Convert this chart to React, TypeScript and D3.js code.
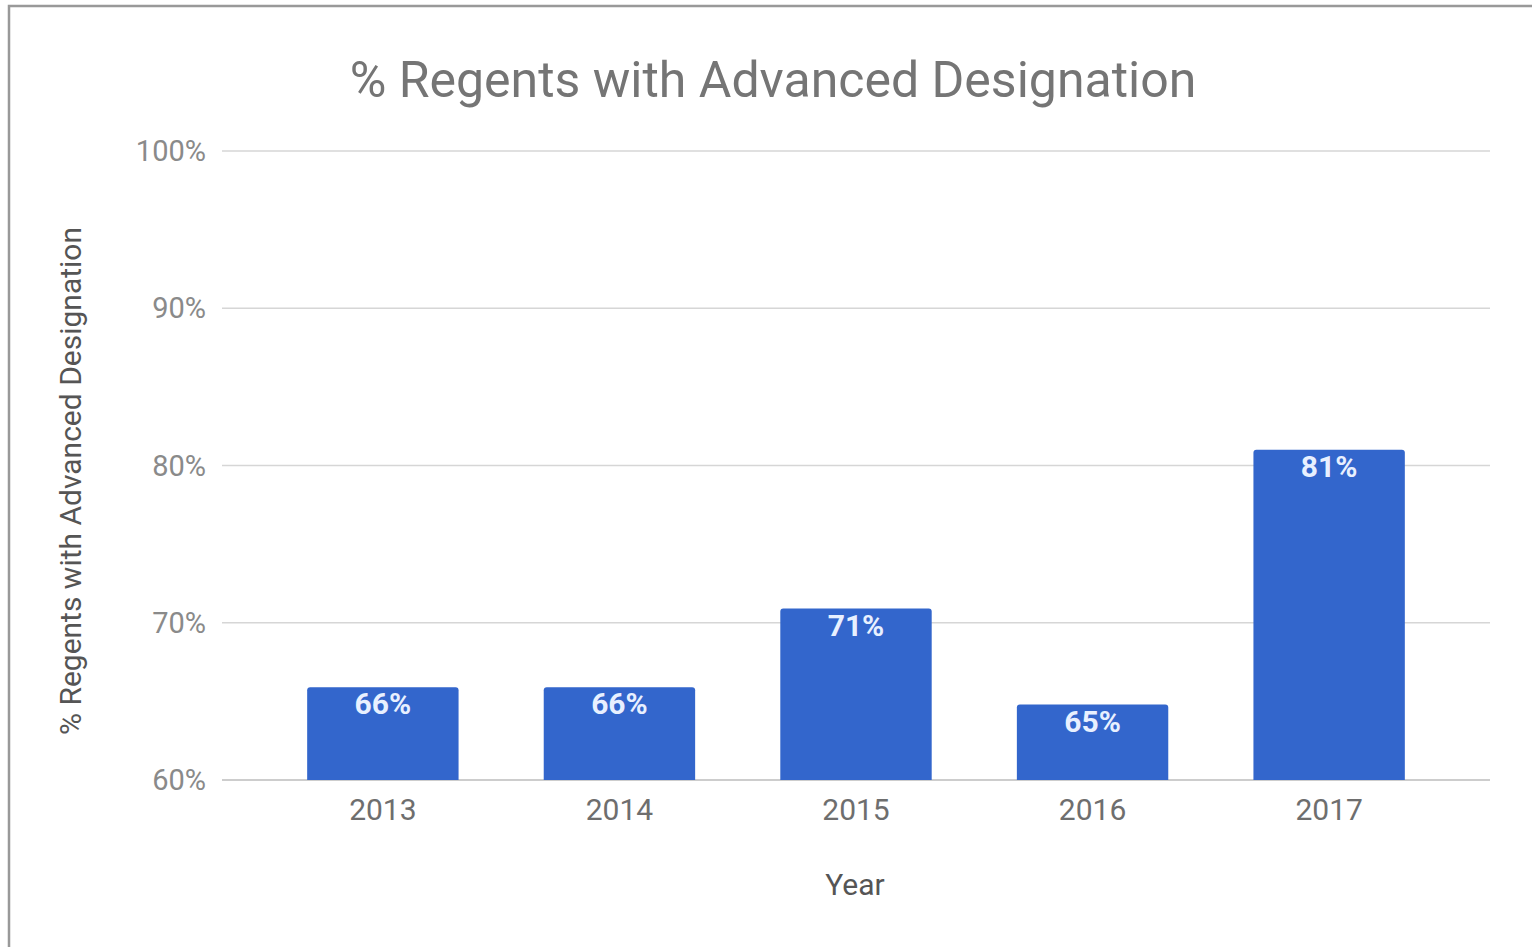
import React, { useEffect, useRef } from 'react';
import * as d3 from 'd3';

const years = ['2013', '2014', '2015', '2016', '2017'];
const percents = [65.9, 65.9, 70.9, 64.8, 81.0];
const yTicks = [60, 70, 80, 90, 100];

const W = 1532;
const H = 947;

export default function App() {
  const ref = useRef<SVGSVGElement>(null);

  useEffect(() => {
    const svg = d3.select(ref.current);
    svg.selectAll('*').remove();
    const font = 'Roboto, "Noto Sans", sans-serif';

    // outer frame
    svg
      .append('rect')
      .attr('x', 9)
      .attr('y', 6)
      .attr('width', W + 20)
      .attr('height', H + 20)
      .attr('fill', '#fff')
      .attr('stroke', '#999')
      .attr('stroke-width', 2.5);

    const x = d3
      .scaleBand<string>()
      .domain(years)
      .range([222, 1490])
      .paddingInner(0.36)
      .paddingOuter(0.36);
    const y = d3.scaleLinear().domain([60, 100]).range([780, 151]);

    svg
      .append('text')
      .attr('x', 773)
      .attr('y', 97)
      .attr('text-anchor', 'middle')
      .attr('font-family', font)
      .attr('font-size', 50)
      .attr('fill', '#757575')
      .text('% Regents with Advanced Designation');

    svg
      .append('g')
      .selectAll('line')
      .data(yTicks)
      .join('line')
      .attr('x1', 222)
      .attr('x2', 1490)
      .attr('y1', d => y(d))
      .attr('y2', d => y(d))
      .attr('stroke', d => (d === 60 ? '#bdbdbd' : '#d6d6d6'))
      .attr('stroke-width', 1.5);

    svg
      .append('g')
      .selectAll('text')
      .data(yTicks)
      .join('text')
      .attr('x', 206)
      .attr('y', d => y(d) + 10)
      .attr('text-anchor', 'end')
      .attr('font-family', font)
      .attr('font-size', 29)
      .attr('fill', '#8a8a8a')
      .text(d => `${d}%`);

    svg
      .append('g')
      .selectAll('path')
      .data(years)
      .join('path')
      .attr('fill', '#3366cc')
      .attr('d', (d, i) => {
        const x0 = x(d)!;
        const w = x.bandwidth();
        const top = y(percents[i]);
        const b = y(60);
        const r = 3;
        return `M${x0},${b}V${top + r}Q${x0},${top} ${x0 + r},${top}H${x0 + w - r}Q${x0 + w},${top} ${x0 + w},${top + r}V${b}Z`;
      });

    svg
      .append('g')
      .selectAll('text')
      .data(years)
      .join('text')
      .attr('x', d => x(d)! + x.bandwidth() / 2)
      .attr('y', (d, i) => y(percents[i]) + 27)
      .attr('text-anchor', 'middle')
      .attr('font-family', font)
      .attr('font-weight', 'bold')
      .attr('font-size', 30)
      .attr('fill', '#e8f0ff')
      .text((d, i) => `${Math.round(percents[i])}%`);

    svg
      .append('g')
      .selectAll('text')
      .data(years)
      .join('text')
      .attr('x', d => x(d)! + x.bandwidth() / 2)
      .attr('y', 820)
      .attr('text-anchor', 'middle')
      .attr('font-family', font)
      .attr('font-size', 30)
      .attr('fill', '#6e6e6e')
      .text(d => d);

    svg
      .append('text')
      .attr('x', 855)
      .attr('y', 895)
      .attr('text-anchor', 'middle')
      .attr('font-family', font)
      .attr('font-size', 30)
      .attr('fill', '#555')
      .text('Year');

    svg
      .append('text')
      .attr('transform', 'translate(81,481) rotate(-90)')
      .attr('text-anchor', 'middle')
      .attr('font-family', font)
      .attr('font-size', 30)
      .attr('fill', '#555')
      .text('% Regents with Advanced Designation');
  }, []);

  return (
    <svg
      ref={ref}
      width={W}
      height={H}
      style={{ position: 'absolute', left: 0, top: 0, display: 'block' }}
    />
  );
}
